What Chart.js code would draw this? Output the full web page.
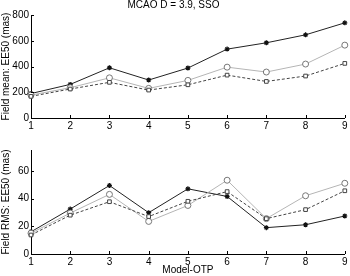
<!DOCTYPE html>
<html>
<head>
<meta charset="utf-8">
<script src="https://cdn.jsdelivr.net/npm/chart.js@4"></script>
<style>
  body { margin: 0; background: #fff; }
  .box { position: absolute; left: 0; width: 350px; height: 138px; }
</style>
</head>
<body>
<div class="box" style="top:0"><canvas id="meanChart" width="350" height="138"></canvas></div>
<div class="box" style="top:138px"><canvas id="rmsChart" width="350" height="138"></canvas></div>
<script>
// model-OTP index on x
const models = ['1', '2', '3', '4', '5', '6', '7', '8', '9'];

// field mean EE50 (mas)
const meanStar = [190, 261, 390, 295, 388, 535, 584, 646, 739];
const meanCircle = [178, 235, 312, 230, 292, 395, 357, 419, 566];
const meanSquare = [168, 225, 277, 217, 258, 333, 284, 326, 424];

// field RMS EE50 (mas)
const rmsStar = [16, 32.4, 49.4, 29.8, 47, 41.5, 19, 21.1, 27.4];
const rmsCircle = [15, 29.5, 43, 23.5, 35, 53.2, 25.5, 42, 51];
const rmsSquare = [13.7, 28, 37.7, 27, 38, 45, 25.5, 32, 45.6];

const fontTxt = { family: 'Liberation Sans, Arial, sans-serif', size: 10 };

// little inward tick marks like the matlab plot
const inTicks = {
  id: 'inTicks',
  afterDraw(chart) {
    const ctx = chart.ctx, a = chart.chartArea;
    const xs = chart.scales.x, ys = chart.scales.y;
    ctx.save();
    ctx.strokeStyle = '#000';
    ctx.lineWidth = 1;
    ctx.beginPath();
    xs.ticks.forEach((t, i) => {
      const px = Math.round(xs.getPixelForTick(i)) + 0.5;
      ctx.moveTo(px, a.bottom);
      ctx.lineTo(px, a.bottom - 3);
    });
    ys.ticks.forEach((t, i) => {
      const py = Math.round(ys.getPixelForTick(i)) + 0.5;
      ctx.moveTo(a.left, py);
      ctx.lineTo(a.left + 3, py);
    });
    ctx.stroke();
    ctx.restore();
  }
};

function series(star, circle, square) {
  return [
    {
      data: square, borderColor: '#444', borderWidth: 1, borderDash: [3, 2],
      pointStyle: 'rect', pointRadius: 2.6, pointBorderColor: '#444',
      pointBackgroundColor: '#fff', pointBorderWidth: 1
    },
    {
      data: circle, borderColor: '#b5b5b5', borderWidth: 1,
      pointStyle: 'circle', pointRadius: 3, pointBorderColor: '#777',
      pointBackgroundColor: '#fff', pointBorderWidth: 1
    },
    {
      data: star, borderColor: '#222', borderWidth: 1,
      pointStyle: 'star', pointRadius: 2.5, pointBorderColor: '#111',
      pointBackgroundColor: '#111', pointBorderWidth: 1.2
    }
  ];
}

function makeChart(id, sets, yOpts, yTitle, opts) {
  const ctx = document.getElementById(id).getContext('2d');
  return new Chart(ctx, {
    type: 'line',
    data: { labels: models, datasets: sets },
    plugins: [inTicks],
    options: {
      responsive: false,
      animation: false,
      layout: { padding: { left: 0, right: 3, top: opts.top, bottom: 0 } },
      plugins: {
        legend: { display: false },
        tooltip: { enabled: false },
        title: opts.title ? {
          display: true, text: opts.title, color: '#000',
          font: Object.assign({}, fontTxt, { lineHeight: 1, weight: 'normal' }),
          padding: { top: 0, bottom: 5 }
        } : { display: false }
      },
      scales: {
        x: {
          offset: false,
          grid: { display: false, drawTicks: false },
          border: { display: true, color: '#000' },
          ticks: { color: '#000', font: fontTxt, padding: 2, maxRotation: 0 },
          title: opts.xTitle ? {
            display: true, text: opts.xTitle, color: '#000', font: fontTxt,
            padding: { top: 0, bottom: 0 }
          } : { display: false },
          afterFit(s) { s.height = opts.xh; }
        },
        y: {
          min: 0, max: yOpts.max,
          grid: { display: false, drawTicks: false },
          border: { display: true, color: '#000' },
          ticks: { stepSize: yOpts.step, color: '#000', font: fontTxt, padding: 2 },
          afterBuildTicks(s) { s.ticks = s.ticks.filter(t => t.value % yOpts.step === 0); },
          title: { display: true, text: yTitle, color: '#000', font: fontTxt, padding: 0 },
          afterFit(s) { s.width = 31; }
        }
      }
    }
  });
}

makeChart('meanChart', series(meanStar, meanCircle, meanSquare),
  { max: 800, step: 200 }, 'Field mean: EE50 (mas)',
  { title: 'MCAO D = 3.9, SSO', top: 0, xh: 20 });

makeChart('rmsChart', series(rmsStar, rmsCircle, rmsSquare),
  { max: 75, step: 20 }, 'Field RMS: EE50 (mas)',
  { xTitle: 'Model-OTP', top: 12, xh: 22 });
</script>
</body>
</html>
